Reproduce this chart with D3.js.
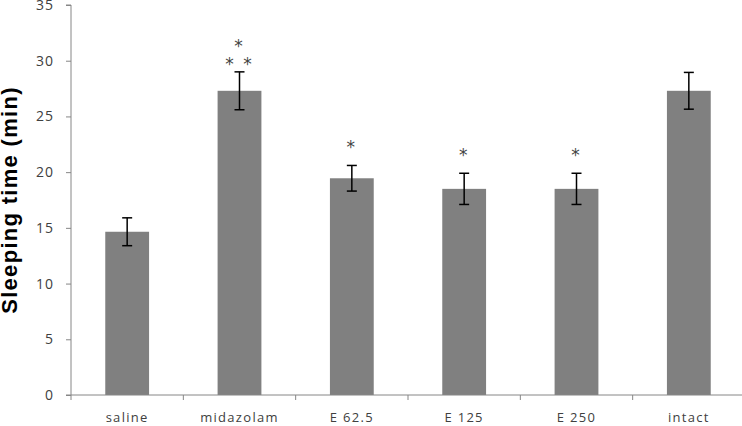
<!DOCTYPE html>
<html>
<head>
<meta charset="utf-8">
<script src="https://cdn.jsdelivr.net/npm/d3@7"></script>
<style>
  body { margin: 0; background: #fff; }
  svg { display: block; }
</style>
</head>
<body>
<svg id="chart" width="742" height="426"></svg>
<script>
// groups, means, error bars (SEM) and significance marks
var groups = ['saline', 'midazolam', 'E 62.5', 'E 125', 'E 250', 'intact'];
var means = [14.65, 27.3, 19.45, 18.5, 18.5, 27.3];
var errs = [1.25, 1.7, 1.15, 1.4, 1.4, 1.65];
var stars = [[], ['*', '* *'], ['*'], ['*'], ['*'], []];
var yTicks = [0, 5, 10, 15, 20, 25, 30, 35];

var svg = d3.select('#chart');
const width = +svg.attr('width');
const margin = {top: 5, left: 71, bottom: 31};
const innerHeight = +svg.attr('height') - margin.top - margin.bottom;

var g = svg.append('g')
    .attr('transform', `translate(${margin.left}, ${margin.top})`);

var x = d3.scaleBand()
    .domain(groups)
    .range([0, 674])
    .paddingInner(0.61)
    .paddingOuter(0.305);

var y = d3.scaleLinear()
    .domain([0, 35])
    .range([innerHeight, 0]);

// bars
g.selectAll('rect.bar')
    .data(groups)
    .enter().append('rect')
    .attr('class', 'bar')
    .attr('x', d => x(d))
    .attr('y', (d, i) => y(means[i]))
    .attr('width', x.bandwidth())
    .attr('height', (d, i) => innerHeight - y(means[i]))
    .attr('fill', '#808080');

// y axis
var yAxis = g.append('g')
    .call(d3.axisLeft(y).tickValues(yTicks).tickSize(5).tickPadding(12));
yAxis.select('.domain').attr('stroke', '#868686').attr('d', `M-5,${innerHeight}H0V0H-5`);
yAxis.selectAll('.tick line').attr('stroke', '#868686');
yAxis.selectAll('.tick text')
    .attr('fill', '#404040')
    .style('font-family', '"Open Sans", sans-serif')
    .style('font-size', '14px')
    .style('letter-spacing', '1px');

// x axis: ticks on category boundaries
var step = x.step();
g.append('line')
    .attr('x1', 0).attr('x2', width - margin.left)
    .attr('y1', innerHeight).attr('y2', innerHeight)
    .attr('stroke', '#868686');
g.selectAll('line.xtick')
    .data(d3.range(groups.length))
    .enter().append('line')
    .attr('class', 'xtick')
    .attr('x1', i => x(groups[i]) + x.bandwidth() / 2 - step / 2)
    .attr('x2', i => x(groups[i]) + x.bandwidth() / 2 - step / 2)
    .attr('y1', innerHeight).attr('y2', innerHeight + 5)
    .attr('stroke', '#868686');
g.selectAll('text.xlabel')
    .data(groups)
    .enter().append('text')
    .attr('class', 'xlabel')
    .attr('x', d => x(d) + x.bandwidth() / 2)
    .attr('y', innerHeight + 27)
    .attr('text-anchor', 'middle')
    .attr('fill', '#404040')
    .style('font-family', '"Open Sans", sans-serif')
    .style('font-size', '13px')
    .style('letter-spacing', '1.3px')
    .text(d => d);

// error bars
var eb = g.selectAll('g.err')
    .data(groups)
    .enter().append('g')
    .attr('class', 'err')
    .attr('transform', d => `translate(${x(d) + x.bandwidth() / 2}, 0)`)
    .attr('stroke', '#000')
    .attr('stroke-width', 1.5);
eb.append('line')
    .attr('y1', (d, i) => y(means[i] + errs[i]))
    .attr('y2', (d, i) => y(means[i] - errs[i]));
eb.append('line')
    .attr('x1', -5).attr('x2', 5)
    .attr('y1', (d, i) => y(means[i] + errs[i]))
    .attr('y2', (d, i) => y(means[i] + errs[i]));
eb.append('line')
    .attr('x1', -5).attr('x2', 5)
    .attr('y1', (d, i) => y(means[i] - errs[i]))
    .attr('y2', (d, i) => y(means[i] - errs[i]));

// significance stars (one text per group, lines stacked downwards)
g.selectAll('text.sig')
    .data(groups)
    .enter().append('text')
    .attr('class', 'sig')
    .attr('x', d => x(d) + x.bandwidth() / 2)
    .attr('y', (d, i) => y(means[i] + errs[i]) - (stars[i].length > 1 ? 20 : 12))
    .attr('text-anchor', 'middle')
    .attr('fill', '#444')
    .style('font-family', '"DejaVu Sans", sans-serif')
    .style('font-size', '17px')
    .style('letter-spacing', '2px')
    .each(function(d, i) {
        var t = d3.select(this);
        stars[i].forEach(function(s, j) {
            t.append('tspan')
                .attr('x', x(d) + x.bandwidth() / 2)
                .attr('dy', j === 0 ? 0 : 18)
                .text(s);
        });
    });

// y axis title
svg.append('text')
    .attr('transform', `translate(17, ${margin.top + innerHeight / 2}) rotate(-90)`)
    .attr('text-anchor', 'middle')
    .attr('fill', '#000')
    .style('font-family', '"Liberation Sans", Arial, sans-serif')
    .style('font-weight', 'bold')
    .style('font-size', '22px')
    .style('letter-spacing', '1.3px')
    .text('Sleeping time (min)');
</script>
</body>
</html>
